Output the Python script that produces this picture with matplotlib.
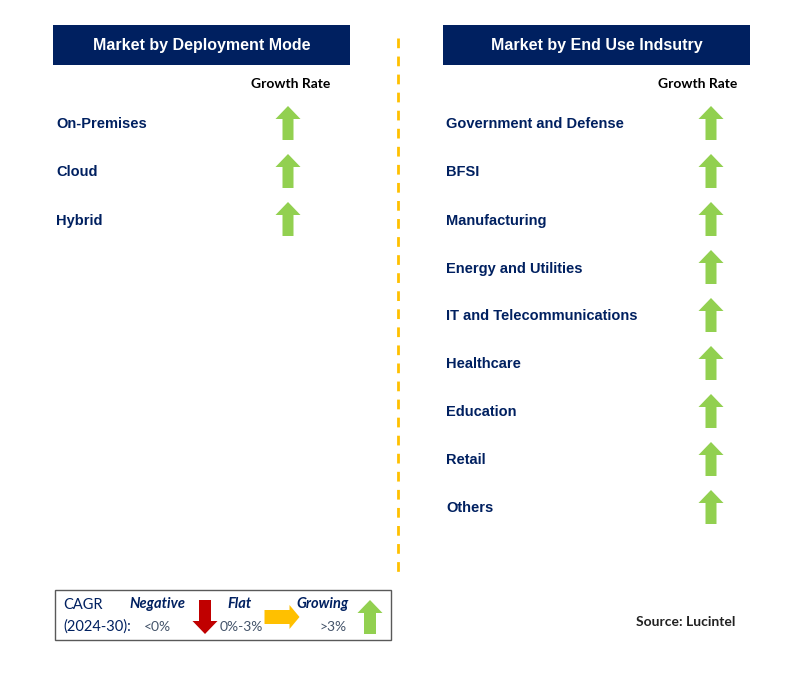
import matplotlib
matplotlib.use('Agg')
import matplotlib.pyplot as plt
from matplotlib.patches import Polygon, Rectangle

# chart content
left_title = 'Market by Deployment Mode'
left_items = ['On-Premises', 'Cloud', 'Hybrid']
left_growth = ['up', 'up', 'up']

right_title = 'Market by End Use Indsutry'
right_items = ['Government and Defense', 'BFSI', 'Manufacturing', 'Energy and Utilities',
               'IT and Telecommunications', 'Healthcare', 'Education', 'Retail', 'Others']
right_growth = ['up'] * 9

legend_names = ['Negative', 'Flat', 'Growing']
legend_ranges = ['<0%', '0%-3%', '>3%']
legend_dirs = ['down', 'right', 'up']

NAVY = '#002060'
ARROW_COL = {'up': '#92D050', 'down': '#C00000', 'right': '#FFC000'}


def arrow(ax, cx, cy, direction, length=34, width=25, shaft=11, head=13):
    # arrow shape in local coords, pointing up, centred at (0, 0)
    L, W, S, H = length / 2, width / 2, shaft / 2, head
    pts = [(-S, L), (-S, -L + H), (-W, -L + H), (0, -L), (W, -L + H), (S, -L + H), (S, L)]
    if direction == 'down':
        pts = [(x, -y) for x, y in pts]
    elif direction == 'right':
        pts = [(-y, x) for x, y in pts]
    ax.add_patch(Polygon([(cx + x, cy + y) for x, y in pts], closed=True,
                         facecolor=ARROW_COL[direction], edgecolor='none'))


fig = plt.figure(figsize=(8.02, 6.73), dpi=100)
ax = fig.add_axes([0, 0, 1, 1])
ax.set_xlim(0, 802)
ax.set_ylim(673, 0)
ax.axis('off')

arial = ['Liberation Sans', 'DejaVu Sans']
calib = ['Lato', 'DejaVu Sans']


def panel(x0, x1, title, items, growth, arrow_x, text_x, gr_x):
    ax.add_patch(Rectangle((x0, 25), x1 - x0, 40, facecolor=NAVY, edgecolor='none'))
    ax.text((x0 + x1) / 2, 45.5, title, color='white', fontsize=11.5, fontweight='bold',
            family=arial, ha='center', va='center')
    ax.text(gr_x, 84.5, 'Growth Rate', color='black', fontsize=10, fontweight='bold',
            family=calib, ha='center', va='center')
    for i, (name, g) in enumerate(zip(items, growth)):
        y = 124 + 48 * i
        ax.text(text_x, y + 0.5, name, color=NAVY, fontsize=10.5, fontweight='bold',
                family=arial, ha='left', va='center')
        arrow(ax, arrow_x, y - 1, g)


panel(53, 350, left_title, left_items, left_growth, 288, 56, 291)
panel(443, 750, right_title, right_items, right_growth, 711, 446, 698)

# divider
ax.plot([398, 398], [38, 578], color='#FFC000', lw=2, ls=(0, (3.5, 3)))

# legend box
ax.add_patch(Rectangle((55, 590), 336, 50, facecolor='white', edgecolor='#595959', lw=1))
ax.text(63, 605, 'CAGR', color=NAVY, fontsize=10.5, family=calib, ha='left', va='center')
ax.text(63, 627, '(2024-30):', color=NAVY, fontsize=10.5, family=calib, ha='left', va='center')
name_x = [157, 240, 323]
range_x = [157, 241, 333]
arrow_pos = [(205, 617), (282, 617), (370, 617)]
for n, r, d, nx, rx, (ax_, ay) in zip(legend_names, legend_ranges, legend_dirs,
                                      name_x, range_x, arrow_pos):
    ax.text(nx, 604, n, color=NAVY, fontsize=10.5, fontweight='bold', style='italic',
            family=calib, ha='center', va='center')
    ax.text(rx, 627, r, color='#44546A', fontsize=10, family=calib, ha='center', va='center')
    if d == 'right':
        arrow(ax, ax_, ay, d, length=35, width=24, shaft=14, head=10)
    else:
        arrow(ax, ax_, ay, d, length=34, width=25, shaft=12, head=13)

ax.text(735, 622, 'Source: Lucintel', color='#222222', fontsize=10, fontweight='bold',
        family=calib, ha='right', va='center')

fig.savefig('out.png', dpi=100)
